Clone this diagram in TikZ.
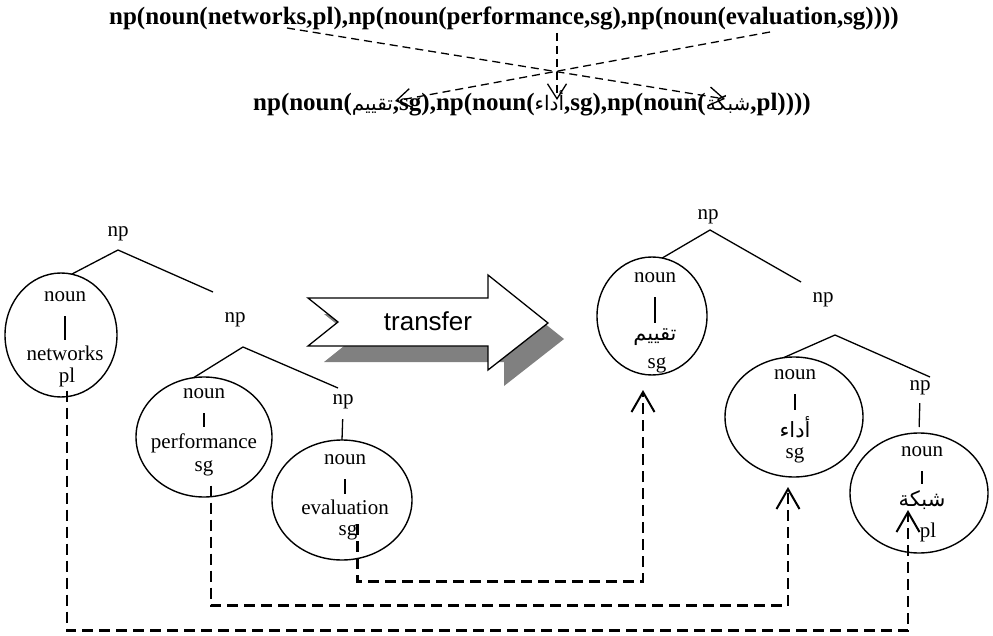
\documentclass[tikz,border=0pt]{standalone}
\usepackage{fontspec}
\setmainfont{Liberation Serif}
\newfontfamily\arabicfont[Script=Arabic]{DejaVu Sans}
\newfontfamily\arrowfont{Liberation Sans}
\TeXXeTstate=1
\usetikzlibrary{arrows.meta,shapes.geometric}

\begin{document}
\begin{tikzpicture}[x=1pt, y=-1pt,
  every node/.style={inner sep=0pt, outer sep=0pt, font=\fontsize{21}{25}\selectfont},
  leaf/.style={draw, ellipse, line width=1.4pt},
  branch/.style={line width=1.3pt},
  bar/.style={line width=1.3pt, shorten <=14pt, shorten >=6pt},
  link/.style={line width=2.6pt, dash pattern=on 11pt off 6pt, -{Straight Barb[length=20pt,width=23pt,line width=2pt]}},
  cross/.style={line width=1.3pt, dash pattern=on 8pt off 5pt, -{Straight Barb[length=15pt,width=19pt,line width=1.3pt]}}]
\useasboundingbox (0,0) rectangle (993,636);

\node[anchor=base, font=\fontsize{25}{30}\selectfont\bfseries] (src) at (504,25) {np(noun(networks,pl),np(noun(performance,sg),np(noun(evaluation,sg))))};
\node[anchor=base, font=\fontsize{25}{30}\selectfont\bfseries] (tgt) at (532,111) {np(noun({\arabicfont\mdseries\fontsize{20}{24}\selectfont\beginR تقييم\endR},sg),np(noun({\arabicfont\mdseries\fontsize{20}{24}\selectfont\beginR أداء\endR},sg),np(noun({\arabicfont\mdseries\fontsize{20}{24}\selectfont\beginR شبكة\endR},pl))))};

\coordinate (a1) at (287,28);
\coordinate (a2) at (725,99);
\coordinate (b1) at (770,32);
\coordinate (b2) at (395,101);
\coordinate (m1) at (557,33);
\coordinate (m2) at (557,100);
\draw[cross] (a1) -- (a2);
\draw[cross] (b1) -- (b2);
\draw[cross] (m1) -- (m2);

\node[leaf, minimum width=112pt, minimum height=124pt] (c1) at (61,335) {};
\node[leaf, minimum width=136pt, minimum height=120pt] (c2) at (204,437) {};
\node[leaf, minimum width=140pt, minimum height=120pt] (c3) at (342,500) {};
\node[leaf, minimum width=110pt, minimum height=118pt] (cA) at (652,316) {};
\node[leaf, minimum width=138pt, minimum height=120pt] (cB) at (794,417) {};
\node[leaf, minimum width=138pt, minimum height=120pt] (cC) at (919,493) {};

\node (r1) at (118,234) {np};
\node (r2) at (235,320) {np};
\node (r3) at (343,402) {np};
\node (rA) at (708,217) {np};
\node (rB) at (823,300) {np};
\node (rC) at (920,388) {np};

\node (n1) at (65,297) {noun};
\node (w1) at (65,353) {networks};
\node (p1) at (67,377) {pl};
\node (n2) at (204,394) {noun};
\node (w2) at (204,443) {performance};
\node (s2) at (204,468) {sg};
\node (n3) at (345,460) {noun};
\node (w3) at (345,507) {evaluation};
\node (s3) at (348,532) {sg};
\node (nA) at (655,278) {noun};
\node (wA) at (655,337) {\arabicfont\beginR تقييم\endR};
\node (sA) at (657,365) {sg};
\node (nB) at (795,375) {noun};
\node (wB) at (795,427) {\arabicfont\beginR أداء\endR};
\node (sB) at (795,455) {sg};
\node (nC) at (922,452) {noun};
\node (wC) at (922,500) {\arabicfont\beginR شبكة\endR};
\node (pC) at (928,532) {pl};

\draw[bar] (n1.south) -- (n1.south |- w1.north);
\draw[bar] (n2.south) -- (n2.south |- w2.north);
\draw[bar] (n3.south) -- (n3.south |- w3.north);
\draw[bar] (nA.south) -- (nA.south |- wA.north);
\draw[bar] (nB.south) -- (nB.south |- wB.north);
\draw[bar] (nC.south) -- (nC.south |- wC.north);

\coordinate (v1) at (118,250);
\coordinate (e1) at (213,292);
\coordinate (v2) at (243,347);
\coordinate (e2) at (338,388);
\coordinate (vA) at (710,230);
\coordinate (eA) at (801,282);
\coordinate (vB) at (835,335);
\coordinate (eB) at (930,377);
\draw[branch] (c1.80) -- (v1) -- (e1);
\draw[branch] (c2.100) -- (v2) -- (e2);
\draw[branch, shorten <=10pt] (r3.south) -- (c3.north);
\draw[branch] (cA.80) -- (vA) -- (eA);
\draw[branch] (cB.100) -- (vB) -- (eB);
\draw[branch, shorten <=8pt, shorten >=6pt] (rC.south) -- (cC.north);

\fill[gray] (324,314) -- (354,338) -- (324,362) -- (504,362) -- (504,386) -- (564,339) -- (504,291) -- (504,314) -- cycle;
\filldraw[fill=white, line width=1.3pt] (308,298) -- (338,322) -- (308,346) -- (488,346) -- (488,370) -- (548,323) -- (488,275) -- (488,298) -- cycle;
\node[font=\fontsize{26}{30}\arrowfont] (xfer) at (428,321) {transfer};

\draw[link] ([yshift=-4pt]p1.south) -- ++(0,240) -| ([xshift=-11pt,yshift=43pt]cC.south);
\draw[link] ([xshift=7pt,yshift=-10pt]s2.south) -- ++(0,120) -| ([xshift=-6pt,yshift=-10pt]cB.south);
\draw[link] (s3.north east) -- ++(0,57) -| ([xshift=-9pt,yshift=-15pt]cA.south);
\end{tikzpicture}
\end{document}
